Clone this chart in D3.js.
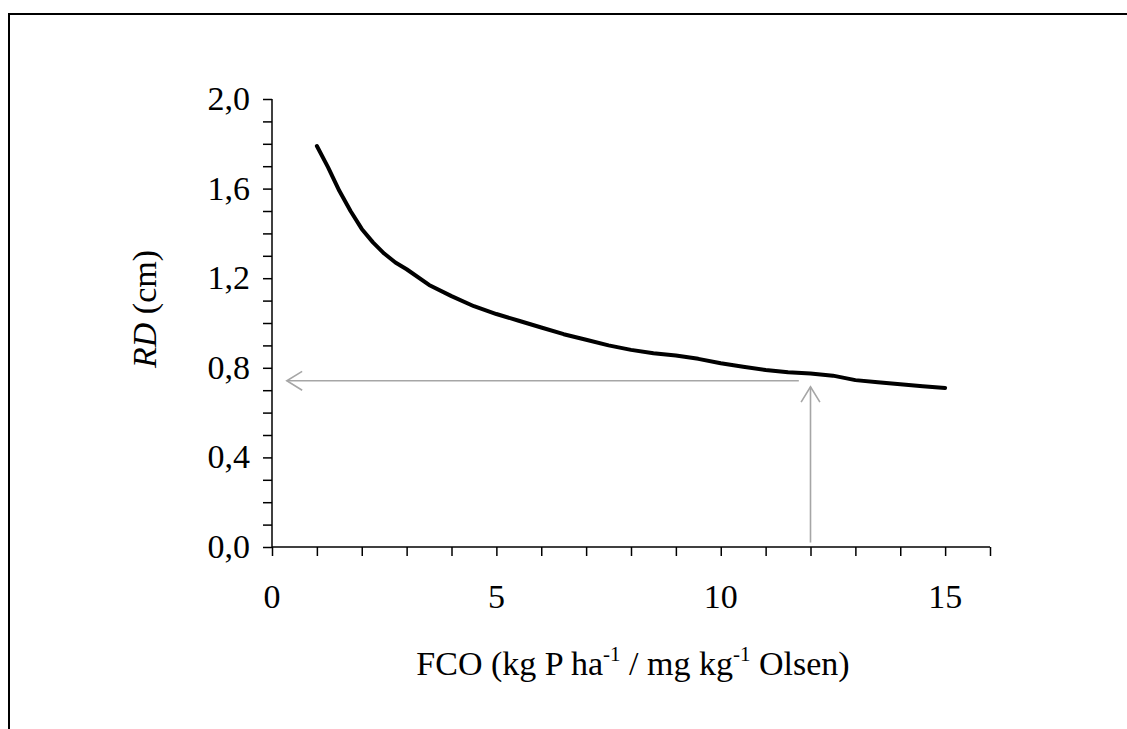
<!DOCTYPE html>
<html>
<head>
<meta charset="utf-8">
<script src="https://cdn.jsdelivr.net/npm/d3@7"></script>
<style>
  body { margin: 0; background: #fff; }
  svg { display: block; font-family: "Liberation Serif", "Times New Roman", serif; }
</style>
</head>
<body>
<svg width="1127" height="729"></svg>
<script>
// FCO values (x) and RD values (cm)
var fco = [1, 1.25, 1.5, 1.75, 2, 2.25, 2.5, 2.75, 3, 3.5, 4, 4.5, 5, 5.5, 6, 6.5, 7, 7.5, 8, 8.5, 9, 9.5, 10, 10.5, 11, 11.5, 12, 12.5, 13, 13.5, 14, 14.5, 15];
var rd = [1.79, 1.695, 1.59, 1.50, 1.42, 1.36, 1.31, 1.27, 1.24, 1.17, 1.12, 1.075, 1.04, 1.01, 0.98, 0.95, 0.925, 0.90, 0.88, 0.865, 0.855, 0.84, 0.82, 0.805, 0.79, 0.78, 0.775, 0.765, 0.745, 0.735, 0.727, 0.718, 0.71];

var xTickLabels = [0, 5, 10, 15];
var yTickLabels = [0, 0.4, 0.8, 1.2, 1.6, 2.0];

// reading arrows: [from, to] in data units
var arrowUp = [[12, 0.02], [12, 0.715]];
var arrowLeft = [[11.74, 0.742], [0.33, 0.742]];

var svg = d3.select("svg");
var margin = {"top":99,"left":272};
var width = 718, height = 448;
var fs = 34;
var g = svg.append("g").attr("transform","translate("+margin.left+","+margin.top+")");

// outer frame (cropped on the right and bottom)
svg.append("rect")
    .attr("x",9).attr("y",14)
    .attr("width",1300).attr("height",900)
    .attr("fill","none").attr("stroke","#000").attr("stroke-width",2);

var x = d3.scaleLinear().domain([0,16]).range([0,width]);
var y = d3.scaleLinear().domain([0,2]).range([height,0]);

var fmt = function(d){ return d3.format(".1f")(d).replace(".",","); };

// x axis
var xAxis = g.append("g")
    .attr("transform","translate(0,"+height+")")
    .call(d3.axisBottom(x).tickValues(d3.range(0,17,1)).tickSize(9).tickFormat(""));
xAxis.select(".domain").attr("stroke-width",1.5).attr("d","M0,0H"+width);
xAxis.selectAll(".tick line").attr("stroke-width",1.5);

g.selectAll(".xlab")
    .data(xTickLabels)
    .enter().append("text")
    .attr("x",function(d){return x(d);})
    .attr("y",height+61)
    .attr("text-anchor","middle")
    .attr("font-size",fs)
    .text(function(d){return d;});

// y axis
var yAxis = g.append("g")
    .call(d3.axisLeft(y).tickValues(d3.range(0,21,1).map(function(d){return d/10;})).tickSize(9).tickFormat(""));
yAxis.select(".domain").attr("stroke-width",1.5).attr("d","M0,"+height+"V0");
yAxis.selectAll(".tick line").attr("stroke-width",1.5);

g.selectAll(".ylab")
    .data(yTickLabels)
    .enter().append("text")
    .attr("x",-22)
    .attr("y",function(d){return y(d)+11;})
    .attr("text-anchor","end")
    .attr("font-size",fs)
    .text(fmt);

// axis titles
var xt = svg.append("text")
    .attr("x",633).attr("y",675)
    .attr("text-anchor","middle")
    .attr("font-size",fs);
xt.append("tspan").text("FCO (kg P ha");
xt.append("tspan").attr("font-size",21).attr("dy",-14).text("-1");
xt.append("tspan").attr("dy",14).text(" / mg kg");
xt.append("tspan").attr("font-size",21).attr("dy",-14).text("-1");
xt.append("tspan").attr("dy",14).text(" Olsen)");

var yt = svg.append("text")
    .attr("transform","translate(156,309) rotate(-90)")
    .attr("text-anchor","middle")
    .attr("font-size",fs);
yt.append("tspan").attr("font-style","italic").text("RD");
yt.append("tspan").text(" (cm)");

// reading arrows
function arrow(pts){
    var x1 = x(pts[0][0]), y1 = y(pts[0][1]), x2 = x(pts[1][0]), y2 = y(pts[1][1]);
    var ang = Math.atan2(y2-y1, x2-x1), len = 18, spread = 0.55;
    g.append("line")
        .attr("x1",x1).attr("y1",y1).attr("x2",x2).attr("y2",y2)
        .attr("stroke","#a6a6a6").attr("stroke-width",1.6);
    g.append("path")
        .attr("d","M"+(x2-len*Math.cos(ang-spread))+","+(y2-len*Math.sin(ang-spread))
            +"L"+x2+","+y2
            +"L"+(x2-len*Math.cos(ang+spread))+","+(y2-len*Math.sin(ang+spread)))
        .attr("fill","none").attr("stroke","#a6a6a6").attr("stroke-width",1.6);
}
arrow(arrowUp);
arrow(arrowLeft);

// curve
var line = d3.line().x(function(d,i){return x(fco[i]);}).y(function(d){return y(d);});
g.append("path")
    .datum(rd)
    .attr("d",line)
    .attr("fill","none")
    .attr("stroke","#000")
    .attr("stroke-width",4)
    .attr("stroke-linejoin","round")
    .attr("stroke-linecap","round");
</script>
</body>
</html>
